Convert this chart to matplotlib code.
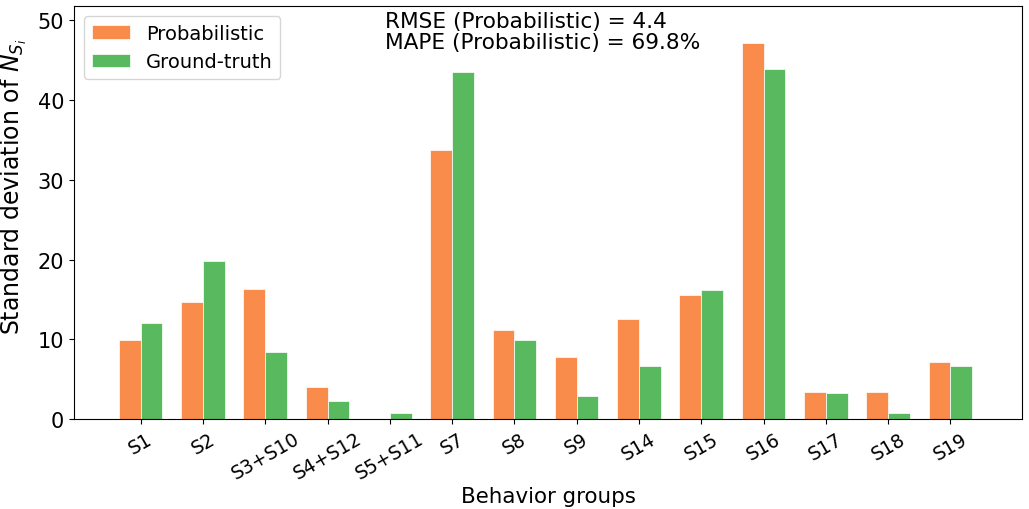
import numpy as np
import matplotlib
matplotlib.use("Agg")
import matplotlib.pyplot as plt

groups = ["S1", "S2", "S3+S10", "S4+S12", "S5+S11", "S7", "S8", "S9",
          "S14", "S15", "S16", "S17", "S18", "S19"]
prob = [9.9, 14.7, 16.3, 4.0, 0.05, 33.8, 11.2, 7.8, 12.6, 15.5, 47.1, 3.4, 3.4, 7.1]
truth = [12.1, 19.8, 8.4, 2.3, 0.75, 43.5, 9.9, 2.9, 6.6, 16.2, 43.9, 3.3, 0.7, 6.7]

ORANGE = "#F98B4B"
GREEN = "#59B95F"
w = 0.35
x = np.arange(len(groups))

fig = plt.figure(figsize=(10.29, 5.10), dpi=100)
ax = fig.add_axes([74/1029, 90/510, (1022-74)/1029, (420-7)/510])

ax.bar(x - w/2, prob, w, color=ORANGE, edgecolor="white", linewidth=0.5, label="Probabilistic")
ax.bar(x + w/2, truth, w, color=GREEN, edgecolor="white", linewidth=0.5, label="Ground-truth")

ax.set_xlim(-1.07, 14.15)
ax.set_ylim(0, 51.8)
ax.set_xticks(x)
ax.set_xticklabels(groups, rotation=30, fontsize=13.5)
ax.tick_params(axis="y", labelsize=15)
ax.set_yticks([0, 10, 20, 30, 40, 50])
ax.set_xlabel("Behavior groups", fontsize=15.4)
ax.xaxis.set_label_coords(0.5, -0.162)
ax.set_ylabel("Standard deviation of $N_{S_i}$", fontsize=17)
ax.yaxis.set_label_coords(-0.047, 0.565)
ax.legend(loc="upper left", fontsize=14)
ax.text(0.328, 0.987, "RMSE (Probabilistic) = 4.4\nMAPE (Probabilistic) = 69.8%",
        transform=ax.transAxes, va="top", ha="left", fontsize=15.6, linespacing=1.05)

fig.savefig("out.png", dpi=100)
